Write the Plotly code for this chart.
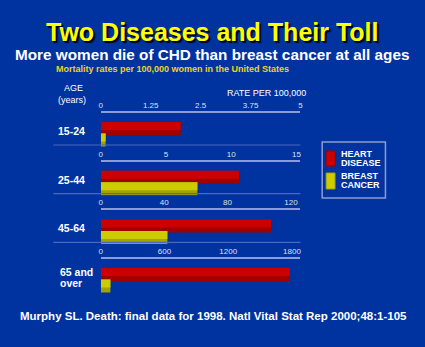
import plotly.graph_objects as go

# ---------------- data ----------------
age_groups = ["15-24", "25-44", "45-64", "65 and over"]
heart_disease = [2.0, 10.6, 107.5, 1780]
breast_cancer = [0.12, 7.4, 42, 90]
tick_values = [[0, 1.25, 2.5, 3.75, 5], [0, 5, 10, 15], [0, 40, 80, 120], [0, 600, 1200, 1800]]
tick_labels = [["0", "1.25", "2.5", "3.75", "5"], ["0", "5", "10", "15"],
               ["0", "40", "80", "120"], ["0", "600", "1200", "1800"]]
axis_max = [5, 15.3, 126, 1880]
series_names = ["HEART DISEASE", "BREAST CANCER"]

# ---------------- style ----------------
W, H = 425, 347
BG = "#0033a0"
RED_HI, RED_LO = "#cc0000", "#a00000"
YEL_HI, YEL_LO = "#cccc00", "#a3a300"
AXIS_COL = "#8c9cd4"
SEP_COL = "#4a68bc"
FONT = "Liberation Sans, Arial, sans-serif"


def px(x):
    return x / W


def py(y):
    return 1 - y / H


fig = go.Figure()
layout_axes = {}
UNIT = 11.5  # px per y unit
X0, X1 = 100, 302

for i in range(4):
    A = 113 + 48.7 * i
    top_val = 1 + 15.5 / UNIT
    bot_val = 0 - 7.0 / UNIT
    sfx = "" if i == 0 else str(i + 1)
    xa, ya = "x" + sfx, "y" + sfx
    full_w = 13.0 / UNIT
    hi_w = 8.0 / UNIT
    for val, pos, lo, hi in ((heart_disease[i], 1, RED_LO, RED_HI),
                             (breast_cancer[i], 0, YEL_LO, YEL_HI)):
        fig.add_trace(go.Bar(x=[val], y=[pos], orientation="h", xaxis=xa, yaxis=ya,
                             width=full_w, offset=-full_w / 2, marker_color=lo,
                             marker_line_width=0, showlegend=False, hoverinfo="skip"))
        fig.add_trace(go.Bar(x=[val], y=[pos], orientation="h", xaxis=xa, yaxis=ya,
                             width=hi_w, offset=full_w / 2 - hi_w, marker_color=hi,
                             marker_line_width=0, showlegend=False, hoverinfo="skip"))
    layout_axes["xaxis" + sfx] = dict(
        domain=[px(X0), px(X1)], range=[0, axis_max[i]], anchor=ya, side="top",
        tickvals=tick_values[i], ticktext=tick_labels[i], showgrid=False, zeroline=False,
        showline=True, linecolor=AXIS_COL, linewidth=1.5, ticks="",
        tickfont=dict(family=FONT, size=8, color="#dde0f0"), fixedrange=True)
    layout_axes["yaxis" + sfx] = dict(
        domain=[py(A + 34), py(A)], range=[bot_val, top_val], anchor=xa,
        visible=False, fixedrange=True)

    # category labels
    if i < 3:
        fig.add_annotation(x=px(55), y=py(A + 18), xref="paper", yref="paper",
                           text="<b>%s</b>" % age_groups[i], showarrow=False,
                           xanchor="left", yanchor="middle",
                           font=dict(family=FONT, size=10.5, color="white"))
        fig.add_shape(type="line", xref="paper", yref="paper",
                      x0=px(52), x1=px(302), y0=py(A + 32), y1=py(A + 32),
                      line=dict(color=SEP_COL, width=1.2))
    else:
        words = age_groups[i].split(" ")
        for txt, yy in ((" ".join(words[:2]), A + 13), (words[2], A + 24)):
            fig.add_annotation(x=px(57), y=py(yy), xref="paper", yref="paper",
                               text="<b>%s</b>" % txt, showarrow=False,
                               xanchor="left", yanchor="middle",
                               font=dict(family=FONT, size=10.5, color="white"))

# ---------------- titles ----------------
fig.add_annotation(x=0.5, y=py(32), xref="paper", yref="paper",
                   text="<b>Two Diseases and Their Toll</b>", showarrow=False,
                   xanchor="center", yanchor="middle",
                   font=dict(family=FONT, size=25, color="#ffff00", shadow="2px 2px 1px #000022"))
fig.add_annotation(x=px(213), y=py(54), xref="paper", yref="paper",
                   text="<b>More women die of CHD than breast cancer at all ages</b>",
                   showarrow=False, xanchor="center", yanchor="middle",
                   font=dict(family=FONT, size=15.3, color="white"))
fig.add_annotation(x=px(53), y=py(68.5), xref="paper", yref="paper",
                   text="<b>Mortality rates per 100,000 women in the United States</b>",
                   showarrow=False, xanchor="left", yanchor="middle",
                   font=dict(family=FONT, size=9, color="#f0d21c"))
fig.add_annotation(x=px(72), y=py(88), xref="paper", yref="paper", text="AGE",
                   showarrow=False, xanchor="center", yanchor="middle",
                   font=dict(family=FONT, size=9, color="white"))
fig.add_annotation(x=px(71), y=py(100), xref="paper", yref="paper", text="(years)",
                   showarrow=False, xanchor="center", yanchor="middle",
                   font=dict(family=FONT, size=9, color="white"))
fig.add_annotation(x=px(310), y=py(93), xref="paper", yref="paper", text="RATE PER 100,000",
                   showarrow=False, xanchor="right", yanchor="middle",
                   font=dict(family=FONT, size=9, color="white"))
fig.add_annotation(x=px(214), y=py(316), xref="paper", yref="paper",
                   text="<b>Murphy SL. Death: final data for 1998. Natl Vital Stat Rep 2000;48:1-105</b>",
                   showarrow=False, xanchor="center", yanchor="middle",
                   font=dict(family=FONT, size=11.5, color="white"))

# ---------------- legend ----------------
fig.add_shape(type="rect", xref="paper", yref="paper", x0=px(324), x1=px(388),
              y0=py(198), y1=py(142), line=dict(color=AXIS_COL, width=1.5))
for (y0, y1, hi, lo), name in zip(((151, 166, RED_HI, RED_LO), (173, 189, YEL_HI, YEL_LO)),
                                  series_names):
    fig.add_shape(type="rect", xref="paper", yref="paper", x0=px(328), x1=px(337),
                  y0=py(y1), y1=py(y0), fillcolor=hi, line=dict(color=lo, width=1))
    l1, l2 = name.split(" ")
    for txt, yy in ((l1, y0 + 2.5), (l2, y0 + 12)):
        fig.add_annotation(x=px(341), y=py(yy), xref="paper", yref="paper",
                           text="<b>%s</b>" % txt, showarrow=False,
                           xanchor="left", yanchor="middle",
                           font=dict(family=FONT, size=9, color="white"))

fig.update_layout(width=W, height=H, margin=dict(l=0, r=0, t=0, b=0),
                  paper_bgcolor=BG, plot_bgcolor="rgba(0,0,0,0)", barmode="overlay",
                  showlegend=False, **layout_axes)

fig.write_html("out.html", config={"displayModeBar": False})
